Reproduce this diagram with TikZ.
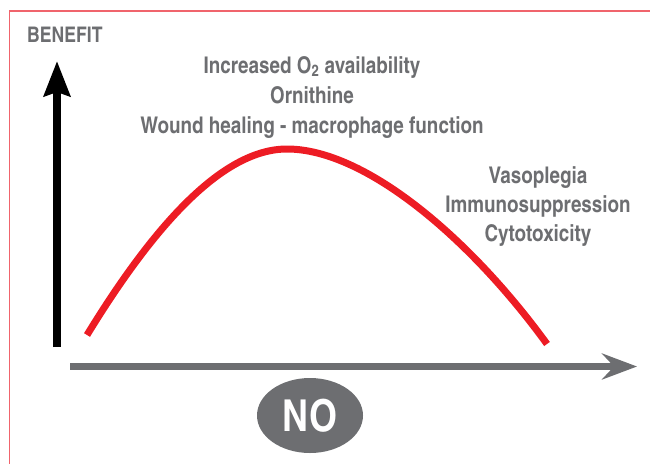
\documentclass[tikz,border=0pt]{standalone}
\usepackage{fontspec}
\usetikzlibrary{arrows.meta,shapes.geometric}
\newfontfamily\condfont{texgyreheroscn-bold.otf}
\definecolor{txtgray}{HTML}{6D6E71}
\definecolor{curvered}{HTML}{ED1C24}
\definecolor{framered}{HTML}{F0646C}
\begin{document}
\begin{tikzpicture}[x=1pt,y=-1pt,
  lbl/.style={text=txtgray, font=\condfont\fontsize{23}{23}\selectfont, inner sep=0pt, anchor=base},
]
\useasboundingbox (0,0) rectangle (650,464);
% frame
\draw[framered, line width=1.2pt] (650,11) -- (9.5,11) -- (9.5,464);
% axes
\coordinate (ybot) at (57,347);
\coordinate (ytop) at (57,61);
\coordinate (xl) at (70,366.5);
\coordinate (xr) at (637,366.5);
\draw[line width=7.5pt, -{Stealth[length=35pt,width=26pt,inset=4pt]}] (ybot) -- (ytop);
\draw[txtgray, line width=7pt, -{Stealth[length=35pt,width=26pt,inset=12pt]}] (xl) -- (xr);
% curve
\coordinate (c0) at (87,335);
\coordinate (c1) at (287,149);
\coordinate (c2) at (547,344);
\draw[curvered, line width=7pt] (c0) .. controls (150,232) and (220,149) .. (c1)
  .. controls (365,149) and (470,238) .. (c2);
% labels
\node[lbl, anchor=base west, font=\condfont\fontsize{21.5}{21.5}\selectfont] (benefit) at (27,42) {BENEFIT};
\node[lbl] (t1) at (312,73) {Increased O\textsubscript{2} availability};
\node[lbl] (t2) at (312,103) {Ornithine};
\node[lbl] (t3) at (312,133) {Wound healing - macrophage function};
\node[lbl] (r1) at (538,183) {Vasoplegia};
\node[lbl] (r2) at (538,212) {Immunosuppression};
\node[lbl] (r3) at (538,241) {Cytotoxicity};
% NO
\node[ellipse, fill=txtgray, minimum width=106pt, minimum height=75pt, inner sep=0pt,
  text=white, font=\condfont\fontsize{44}{44}\selectfont] (no) at (310,415.5) {NO};
\end{tikzpicture}
\end{document}
